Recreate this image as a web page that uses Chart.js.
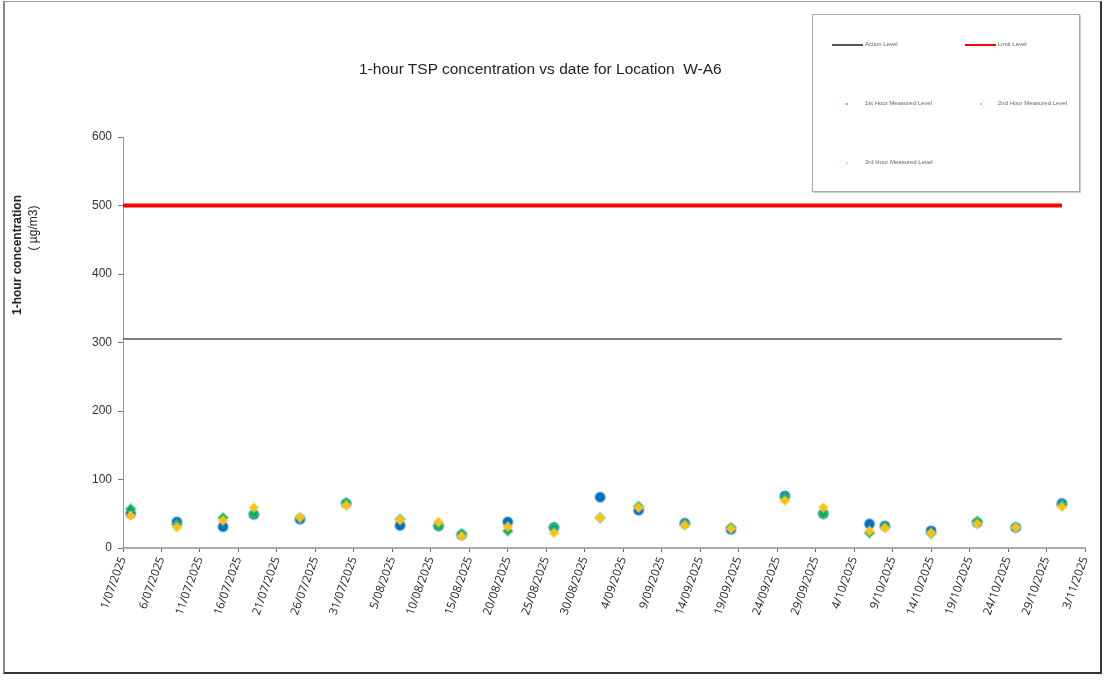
<!DOCTYPE html>
<html>
<head>
<meta charset="utf-8">
<script src="https://cdn.jsdelivr.net/npm/chart.js@4/dist/chart.umd.min.js"></script>
<style>
  body { margin: 0; background: #fff; }
  #wrap { position: relative; width: 1106px; height: 680px; overflow: hidden; }
  #frame { position: absolute; left: 3px; top: 1px; width: 1095px; height: 670px;
           border-left: 2px solid #888; border-top: 1px solid #999;
           border-right: 2px solid #333; border-bottom: 2px solid #333; }
  canvas { position: absolute; left: 0; top: 0; }
  #title { position: absolute; left: 359px; top: 60px; font: 15.5px "Liberation Sans", Arial, sans-serif; color: #222; white-space: nowrap; }
  .ylab { position: absolute; font: bold 12px "Liberation Sans", Arial, sans-serif; color: #222; white-space: nowrap;
          transform: translate(-50%, -50%) rotate(-90deg); }
  #legend { position: absolute; left: 812px; top: 14px; width: 266px; height: 176px; border: 1px solid #aaa;
            box-shadow: 1px 1px 0 #ccc; background: #fff; font: 6px "Liberation Sans", Arial, sans-serif; color: #666; }
  .li { position: absolute; white-space: nowrap; }
  .sw { position: absolute; }
</style>
</head>
<body>
<div id="wrap">
  <div id="frame"></div>
  <canvas id="chart" width="1106" height="680"></canvas>
  <div id="title">1-hour TSP concentration vs date for Location&nbsp; W-A6</div>
  <div class="ylab" style="left:17px; top:255px;">1-hour concentration</div>
  <div class="ylab" style="left:33px; top:228px; font-weight:normal;">( µg/m3)</div>
  <div id="legend">
    <div class="sw" style="left:19px; top:29px; width:31px; height:2px; background:#555;"></div>
    <div class="li" style="left:52px; top:26px;">Action Level</div>
    <div class="sw" style="left:152px; top:29px; width:31px; height:2px; background:#f00;"></div>
    <div class="li" style="left:185px; top:26px;">Limit Level</div>
    <div class="sw" style="left:33px; top:88px; width:2px; height:2px; background:#8ab4dc;"></div>
    <div class="li" style="left:52px; top:85px;">1st Hour Measured Level</div>
    <div class="sw" style="left:167px; top:88px; width:2px; height:2px; background:#9cd6c8;"></div>
    <div class="li" style="left:185px; top:85px;">2nd Hour Measured Level</div>
    <div class="sw" style="left:33px; top:147px; width:2px; height:2px; background:#f5d890;"></div>
    <div class="li" style="left:52px; top:144px;">3rd Hour Measured Level</div>
  </div>
</div>
<script>
const startDate = '2025-07-01';

const xTickLabels = ['1/07/2025', '6/07/2025', '11/07/2025', '16/07/2025', '21/07/2025', '26/07/2025',
  '31/07/2025', '5/08/2025', '10/08/2025', '15/08/2025', '20/08/2025', '25/08/2025', '30/08/2025',
  '4/09/2025', '9/09/2025', '14/09/2025', '19/09/2025', '24/09/2025', '29/09/2025', '4/10/2025',
  '9/10/2025', '14/10/2025', '19/10/2025', '24/10/2025', '29/10/2025', '3/11/2025'];

const yTicks = [0, 100, 200, 300, 400, 500, 600];

const dates = ['2025-07-02', '2025-07-08', '2025-07-14', '2025-07-18', '2025-07-24', '2025-07-30',
  '2025-08-06', '2025-08-11', '2025-08-14', '2025-08-20', '2025-08-26', '2025-09-01',
  '2025-09-06', '2025-09-12', '2025-09-18', '2025-09-25', '2025-09-30', '2025-10-06',
  '2025-10-08', '2025-10-14', '2025-10-20', '2025-10-25', '2025-10-31'];

const hour1 = [50, 38, 31, 49, 42, 65, 33, 32, 19, 38, 30, 74, 55, 36, 27, 76, 50, 35, 32, 25, 37, 30, 65];
const hour2 = [57, 34, 44, 50, 44, 66, 42, 32, 21, 25, 30, 44, 61, 35, 30, 74, 50, 22, 31, 21, 39, 30, 63];
const hour3 = [47, 30, 40, 59, 45, 62, 41, 38, 17, 31, 22, 44, 59, 33, 28, 69, 59, 25, 29, 22, 35, 30, 60];

const levelDates = ['2025-07-01', '2025-10-31'];
const actionLevel = 305;
const limitLevel = 500;

function dayOf(s) {
  const [y, m, d] = s.split('-').map(Number);
  const [y0, m0, d0] = startDate.split('-').map(Number);
  return Math.round((Date.UTC(y, m - 1, d) - Date.UTC(y0, m0 - 1, d0)) / 86400000);
}

const pts = vals => dates.map((d, i) => ({ x: dayOf(d), y: vals[i] }));
const levelLine = v => levelDates.map(d => ({ x: dayOf(d), y: v }));

new Chart(document.getElementById('chart'), {
  type: 'scatter',
  data: {
    datasets: [
      { label: '3rd Hour Measured Level', data: pts(hour3), order: 1,
        pointStyle: 'rectRot', pointRadius: 4.5, backgroundColor: '#ffc000', borderColor: 'rgba(255,205,80,0.45)', borderWidth: 2 },
      { label: '2nd Hour Measured Level', data: pts(hour2), order: 2,
        pointStyle: 'rectRot', pointRadius: 5, backgroundColor: '#00b050', borderColor: 'rgba(90,200,130,0.45)', borderWidth: 2 },
      { label: '1st Hour Measured Level', data: pts(hour1), order: 3,
        pointStyle: 'circle', pointRadius: 5, backgroundColor: '#0070c0', borderColor: 'rgba(80,150,220,0.4)', borderWidth: 2 },
      { label: 'Action Level', data: levelLine(actionLevel), order: 4, showLine: true,
        borderColor: '#555', borderWidth: 1.5, pointRadius: 0 },
      { label: 'Limit Level', data: levelLine(limitLevel), order: 5, showLine: true,
        borderColor: '#ff0000', borderWidth: 4, pointRadius: 0 }
    ]
  },
  options: {
    responsive: false,
    animation: false,
    layout: { padding: { top: 137, right: 21, left: 0, bottom: 0 } },
    plugins: { legend: { display: false }, tooltip: { enabled: false } },
    scales: {
      x: {
        type: 'linear', min: 0, max: 125,
        afterFit: s => { s.height = 132; },
        afterBuildTicks: s => { s.ticks = xTickLabels.map((_, i) => ({ value: i * 5 })); },
        ticks: {
          callback: (v, i) => xTickLabels[i],
          minRotation: 70, maxRotation: 70, autoSkip: false,
          font: { family: 'Open Sans', size: 11.5 }, color: '#222', padding: 3
        },
        grid: { drawOnChartArea: false, drawTicks: true, tickLength: 4, color: '#666' },
        border: { color: '#aaa', width: 2 }
      },
      y: {
        min: 0, max: 600,
        afterFit: s => { s.width = 123; },
        afterBuildTicks: s => { s.ticks = yTicks.map(v => ({ value: v })); },
        ticks: { font: { family: 'Liberation Sans', size: 12 }, color: '#333', padding: 6 },
        grid: { drawOnChartArea: false, drawTicks: true, tickLength: 5, color: '#777' },
        border: { color: '#999', width: 1 }
      }
    }
  }
});
</script>
</body>
</html>
